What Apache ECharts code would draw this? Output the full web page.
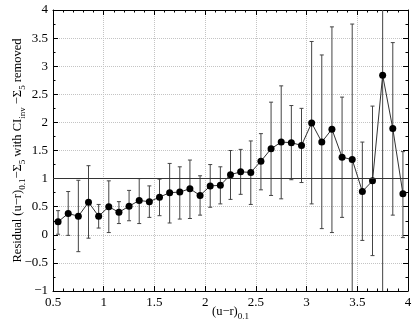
<!DOCTYPE html>
<html>
<head>
<meta charset="utf-8">
<script src="https://cdn.jsdelivr.net/npm/echarts@6/dist/echarts.min.js"></script>
<style>
html,body{margin:0;padding:0;background:#fff;}
#main{width:415px;height:325px;}
</style>
</head>
<body>
<div id="main"></div>
<script>
// bin centres along (u-r)_0.1
var binX = [0.55,0.65,0.75,0.85,0.95,1.05,1.15,1.25,1.35,1.45,1.55,1.65,1.75,1.85,1.95,
            2.05,2.15,2.25,2.35,2.45,2.55,2.65,2.75,2.85,2.95,3.05,3.15,3.25,3.35,3.45,
            3.55,3.65,3.75,3.85,3.95];
// residual means
var meanY = [0.23,0.38,0.33,0.58,0.33,0.50,0.40,0.51,0.61,0.59,0.67,0.75,0.76,0.82,0.70,
             0.87,0.88,1.07,1.12,1.11,1.31,1.53,1.65,1.64,1.59,1.99,1.65,1.88,1.38,1.34,
             0.77,0.96,2.84,1.89,0.73];
// error bar ends
var lowY = [0.01,-0.01,-0.30,-0.06,0.12,0.04,0.20,0.25,0.20,0.31,0.34,0.21,0.28,0.29,0.35,
            0.49,0.55,0.63,0.72,0.54,0.80,0.70,0.64,0.98,0.93,0.55,0.11,0.04,0.31,-1.5,
            -0.10,-0.37,-1.5,0.35,-0.05];
var highY = [0.43,0.77,0.97,1.23,0.54,0.96,0.59,0.79,1.00,0.87,0.99,1.27,1.21,1.33,1.05,
             1.25,1.21,1.50,1.52,1.67,1.80,2.36,2.65,2.30,2.25,3.44,3.20,3.70,2.45,3.75,
             1.65,2.29,4.5,3.42,1.48];
var refLine = 1;

var font = '"Liberation Serif", "DejaVu Serif", serif';

var lineData = [];
var barData = [];
for (var i = 0; i < binX.length; i++) {
    lineData.push([binX[i], meanY[i]]);
    barData.push([binX[i], lowY[i], highY[i]]);
}

function fmt(v){ return String(v).replace('-', '\u2212'); }

var subStyle = {fontSize: 9, fontFamily: font, color: '#000', lineHeight: 9, verticalAlign: 'bottom'};
var baseStyle = {fontSize: 12.5, fontFamily: font, color: '#000', lineHeight: 18};
var gridLine = {color: '#c4c4c4', type: 'dotted', width: 1};

var axisCommon = {
    type: 'value',
    axisLine: {show: true, onZero: false, lineStyle: {color: '#000', width: 1}},
    axisTick: {show: true, inside: true, length: 5, lineStyle: {color: '#000'}},
    minorTick: {show: true, length: 2.5, lineStyle: {color: '#000'}},
    splitLine: {show: false}
};

function xAxisOf(pos, labels){
    return Object.assign({}, axisCommon, {
        position: pos, min: 0.5, max: 4, interval: 0.5,
        minorTick: Object.assign({}, axisCommon.minorTick, {splitNumber: 5}),
        splitLine: {show: pos === 'bottom', lineStyle: gridLine},
        axisLabel: {show: labels, color: '#000', fontFamily: font, fontSize: 13, margin: 5, formatter: fmt}
    });
}
function yAxisOf(pos, labels){
    return Object.assign({}, axisCommon, {
        position: pos, min: -1, max: 4, interval: 0.5,
        minorTick: Object.assign({}, axisCommon.minorTick, {splitNumber: 2}),
        splitLine: {show: pos === 'left', lineStyle: gridLine},
        axisLabel: {show: labels, color: '#000', fontFamily: font, fontSize: 13, margin: 5, formatter: fmt}
    });
}

var xa = xAxisOf('bottom', true);
xa.name = '{b|(u\u2212r)}{s|0.1}';
xa.nameLocation = 'middle';
xa.nameGap = 12;
xa.nameMoveOverlap = false;
xa.nameTextStyle = {rich: {b: baseStyle, s: subStyle}};

var ya = yAxisOf('left', true);
ya.name = '{b|Residual (u\u2212r)}{s|0.1}{b|\u2212\u03a3}{s|5}{b| with CI}{s|inv}{b| \u2212\u03a3}{s|5}{b| removed}';
ya.nameLocation = 'middle';
ya.nameGap = 26;
ya.nameRotate = 90;
ya.nameMoveOverlap = false;
ya.nameTextStyle = {rich: {b: baseStyle, s: subStyle}};

var chart = echarts.init(document.getElementById('main'));
chart.setOption({
    animation: false,
    backgroundColor: '#fff',
    grid: {left: 53, right: 7, top: 10, bottom: 34, outerBoundsMode: 'none', containLabel: false},
    xAxis: [xa, xAxisOf('top', false)],
    yAxis: [ya, yAxisOf('right', false)],
    series: [
        {
            type: 'custom',
            clip: true,
            z: 2,
            data: barData,
            renderItem: function(params, api){
                var x = api.value(0);
                var p1 = api.coord([x, api.value(1)]);
                var p2 = api.coord([x, api.value(2)]);
                var w = 2;
                var st = {stroke: '#444', lineWidth: 1};
                return {
                    type: 'group',
                    children: [
                        {type: 'line', shape: {x1: p1[0], y1: p1[1], x2: p2[0], y2: p2[1]}, style: st},
                        {type: 'line', shape: {x1: p1[0]-w, y1: p1[1], x2: p1[0]+w, y2: p1[1]}, style: st},
                        {type: 'line', shape: {x1: p2[0]-w, y1: p2[1], x2: p2[0]+w, y2: p2[1]}, style: st}
                    ]
                };
            }
        },
        {
            type: 'line',
            z: 3,
            data: lineData,
            symbol: 'circle',
            symbolSize: 7,
            itemStyle: {color: '#000'},
            lineStyle: {color: '#333', width: 1},
            markLine: {
                silent: true,
                symbol: 'none',
                label: {show: false},
                lineStyle: {color: '#333', width: 1, type: 'solid'},
                data: [{yAxis: refLine}]
            }
        }
    ]
});
</script>
</body>
</html>
